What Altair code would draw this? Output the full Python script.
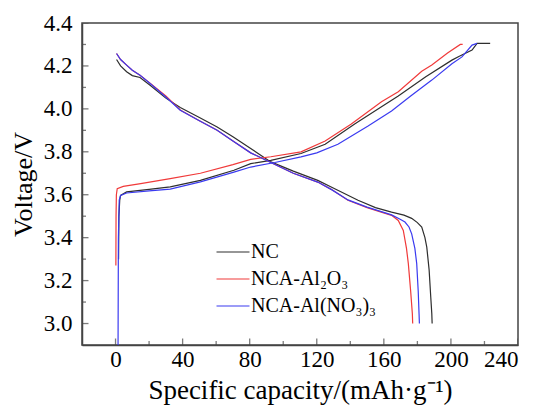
import altair as alt
import pandas as pd

# ---------------- data ----------------
series_names = ["NC", "NCA-Al\u2082O\u2083", "NCA-Al(NO\u2083)\u2083"]
series_colors = ["#2e2e2e", "#f03a3a", "#3a3af0"]

# NC (black)
nc_dis_cap = [0.6, 3, 6.6, 10, 14.6, 20.6, 30, 38.6, 50, 60.6, 70, 80.6, 92.6, 106, 120.6, 128.6, 144.6, 155, 164.6, 172, 176.6, 180, 182.6, 184.5, 185.6, 187, 188, 188.6, 188.8]
nc_dis_v = [4.23, 4.20, 4.173, 4.155, 4.146, 4.11, 4.05, 4.006, 3.96, 3.916, 3.87, 3.815, 3.753, 3.71, 3.667, 3.636, 3.574, 3.54, 3.519, 3.505, 3.49, 3.47, 3.449, 3.40, 3.356, 3.25, 3.12, 3.045, 3.0]
nc_ch_cap = [1.8, 2.0, 2.5, 3, 6.6, 20, 32.6, 50.6, 70.6, 80.6, 92.6, 110.6, 125, 142.6, 158.6, 168.6, 185, 200.6, 205, 212.6, 215.6, 223.4]
nc_ch_v = [3.3, 3.5, 3.575, 3.597, 3.613, 3.625, 3.637, 3.667, 3.714, 3.745, 3.76, 3.792, 3.835, 3.93, 4.01, 4.06, 4.15, 4.227, 4.245, 4.274, 4.305, 4.305]

# NCA-Al2O3 (red)
al2o3_dis_cap = [0.6, 3, 6.6, 10, 14.6, 20.6, 30, 38.6, 50, 60.6, 70, 80.6, 92.6, 106, 120.6, 128.6, 138.6, 150, 164.6, 168.6, 171.6, 173.5, 174.6, 176, 177, 177.2]
al2o3_dis_v = [4.258, 4.23, 4.204, 4.18, 4.157, 4.12, 4.06, 3.995, 3.945, 3.90, 3.85, 3.795, 3.75, 3.70, 3.659, 3.625, 3.574, 3.54, 3.504, 3.48, 3.434, 3.35, 3.279, 3.15, 3.045, 3.0]
al2o3_ch_cap = [0.2, 0.3, 0.5, 1.0, 4.6, 15, 32.6, 50.6, 70, 80.6, 92.6, 110.6, 125, 140.6, 158.6, 168.6, 182.6, 188.6, 198, 205.6, 207]
al2o3_ch_v = [3.27, 3.5, 3.60, 3.628, 3.639, 3.652, 3.675, 3.70, 3.74, 3.765, 3.777, 3.80, 3.85, 3.93, 4.033, 4.08, 4.175, 4.204, 4.26, 4.30, 4.30]

# NCA-Al(NO3)3 (blue)
alno3_dis_cap = [0.6, 3, 6.6, 10, 14.6, 20.6, 30, 38.6, 50, 60.6, 70, 80.6, 92.6, 106, 120.6, 128.6, 138.6, 150, 164.6, 170, 172.6, 175, 176.6, 178.5, 179.6, 180.5, 181, 181.2]
alno3_dis_v = [4.258, 4.23, 4.204, 4.18, 4.157, 4.118, 4.055, 3.994, 3.945, 3.90, 3.85, 3.795, 3.75, 3.70, 3.659, 3.625, 3.576, 3.542, 3.506, 3.485, 3.473, 3.45, 3.418, 3.35, 3.279, 3.15, 3.045, 3.0]
alno3_ch_cap = [1.5, 1.7, 2.2, 3, 6.6, 20, 32.6, 50.6, 70.6, 80.6, 95, 110.6, 120, 132.6, 150.6, 164.6, 176, 188.6, 200.6, 206.6, 212.6, 215.6]
alno3_ch_v = [2.9, 3.4, 3.575, 3.597, 3.608, 3.618, 3.626, 3.66, 3.705, 3.729, 3.75, 3.776, 3.795, 3.835, 3.92, 3.99, 4.06, 4.134, 4.21, 4.242, 4.297, 4.305]

x_major = [0, 40, 80, 120, 160, 200, 240]
x_minor = [20, 60, 100, 140, 180, 220]
y_major = [3.0, 3.2, 3.4, 3.6, 3.8, 4.0, 4.2, 4.4]
y_minor = [3.1, 3.3, 3.5, 3.7, 3.9, 4.1, 4.3]
x_domain = [-20, 240]
y_domain = [2.9, 4.4]

# ---------------- build tables ----------------
rows = []
def add(name, curve, caps, vs):
    for i, (c, v) in enumerate(zip(caps, vs)):
        rows.append({"series": name, "curve": name + curve, "cap": c, "v": v, "i": i})

add(series_names[0], "d", nc_dis_cap, nc_dis_v)
add(series_names[0], "c", nc_ch_cap, nc_ch_v)
add(series_names[1], "d", al2o3_dis_cap, al2o3_dis_v)
add(series_names[1], "c", al2o3_ch_cap, al2o3_ch_v)
add(series_names[2], "d", alno3_dis_cap, alno3_dis_v)
add(series_names[2], "c", alno3_ch_cap, alno3_ch_v)
df = pd.DataFrame(rows)

xt = pd.DataFrame({"cap": x_major + x_minor,
                   "kind": ["major"] * len(x_major) + ["minor"] * len(x_minor),
                   "v": [y_domain[0]] * (len(x_major) + len(x_minor))})
yt = pd.DataFrame({"v": y_major + y_minor,
                   "kind": ["major"] * len(y_major) + ["minor"] * len(y_minor),
                   "cap": [x_domain[0]] * (len(y_major) + len(y_minor))})

FONT = "Liberation Serif"
AXC = "#444444"
xscale = alt.Scale(domain=x_domain, nice=False, zero=False)
yscale = alt.Scale(domain=y_domain, nice=False, zero=False)
x_axis = alt.Axis(values=x_major, title="Specific capacity/(mAh\u00b7g\u207b\u00b9)",
                  ticks=False, grid=False, labelPadding=3, titlePadding=6,
                  labelFont=FONT, labelFontSize=23, labelColor="black",
                  titleFont=FONT, titleFontSize=27, titleColor="black", titleFontWeight="normal")
y_axis = alt.Axis(values=y_major, format=".1f", title="Voltage/V",
                  ticks=False, grid=False, labelPadding=10, titlePadding=7,
                  labelFont=FONT, labelFontSize=23, labelColor="black",
                  titleFont=FONT, titleFontSize=26, titleColor="black", titleFontWeight="normal")
X = alt.X("cap:Q", scale=xscale, axis=x_axis)
Y = alt.Y("v:Q", scale=yscale, axis=y_axis)
size_scale = alt.Scale(domain=["major", "minor"], range=[13, 8])

lines = alt.Chart(df).mark_line(strokeWidth=1.2, clip=True).encode(
    x=X, y=Y,
    color=alt.Color("series:N",
                    scale=alt.Scale(domain=series_names, range=series_colors),
                    legend=alt.Legend(orient="none", legendX=141, legendY=219, title=None,
                                      symbolType="M-2,0H2", symbolSize=272,
                                      symbolStrokeWidth=1.2, labelFont=FONT,
                                      labelFontSize=20, labelColor="black",
                                      rowPadding=7, labelOffset=8, padding=0)),
    detail="curve:N",
    order="i:Q",
)

xticks = alt.Chart(xt).mark_tick(orient="vertical", thickness=1.3, color=AXC, clip=True).encode(
    x=X, y=Y,
    size=alt.Size("kind:N", scale=size_scale, legend=None),
)
yticks = alt.Chart(yt).mark_tick(orient="horizontal", thickness=1.3, color=AXC, clip=True).encode(
    x=X, y=Y,
    size=alt.Size("kind:N", scale=size_scale, legend=None),
)

chart = alt.layer(lines, xticks, yticks).resolve_scale(size="independent").properties(
    width=436, height=322,
    autosize=alt.AutoSizeParams(type="none"),
    padding={"left": 74, "top": 15, "right": 14, "bottom": 60},
    background="white",
).configure_view(stroke=AXC, strokeWidth=1.5).configure_axis(
    domainColor=AXC, domainWidth=1.5,
)

chart.save("out.html", embed_options={"renderer": "svg", "actions": False})
